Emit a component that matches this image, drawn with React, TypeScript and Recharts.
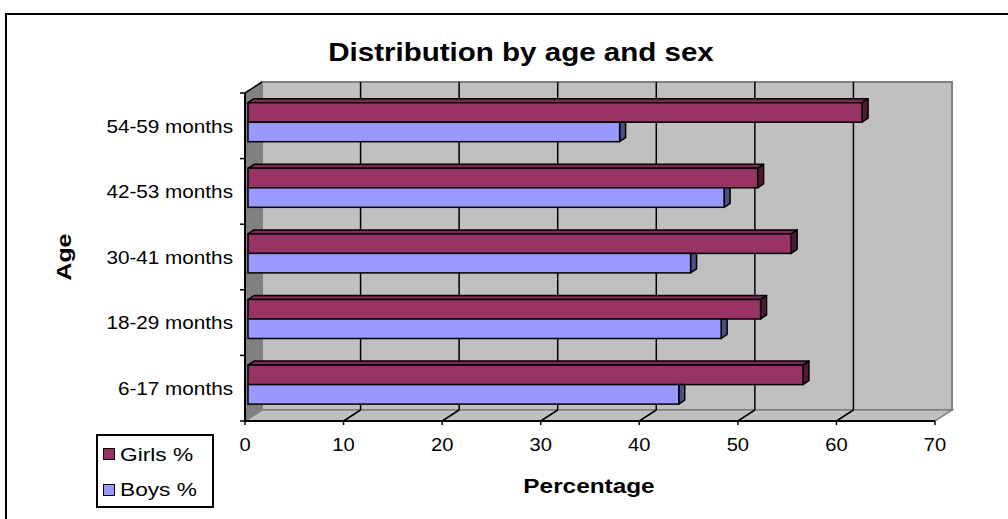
import React from 'react';
import { BarChart, Bar, XAxis, YAxis, ReferenceArea, Legend } from 'recharts';

// values (percent)
const categories = ['54-59 months', '42-53 months', '30-41 months', '18-29 months', '6-17 months'];
const girlsPct = [62.3, 51.7, 55.1, 52.0, 56.3];
const boysPct = [37.7, 48.3, 44.9, 48.0, 43.7];
const xTicks = [0, 10, 20, 30, 40, 50, 60, 70];
const seriesNames = ['Girls %', 'Boys %'];

const data = categories.map((age, i) => ({ age, girls: girlsPct[i], boys: boysPct[i] }));

const FONT = '"Liberation Sans", Arial, sans-serif';
const X_MAX = xTicks[xTicks.length - 1];
// 3d depth of the walls and of the bars
const DX = 17;
const DY = 11;
const BX = 6;
const BY = 4;
const SHIFT_X = 3;
const SHIFT_Y = 3.3;

const SText = ({ x, y, size, bold, anchor, sx, rotate, children }: any) => (
  <text
    transform={`translate(${x},${y})${rotate ? ` rotate(${rotate})` : ''} scale(${sx},1)`}
    textAnchor={anchor}
    fontSize={size}
    fontWeight={bold ? 700 : 400}
    fontFamily={FONT}
    fill="#000"
  >
    {children}
  </text>
);

const Walls = (props: any) => {
  const { x, y, width, height } = props;
  const bottom = y + height;
  const n = categories.length;
  return (
    <g>
      <polygon
        points={`${x},${y} ${x + DX},${y - DY} ${x + DX},${bottom - DY} ${x},${bottom}`}
        fill="#808080"
        stroke="#808080"
      />
      <rect x={x + DX} y={y - DY} width={width} height={height} fill="#c0c0c0" stroke="#808080" strokeWidth={2} />
      <polygon
        points={`${x},${bottom} ${x + DX},${bottom - DY} ${x + width + DX},${bottom - DY} ${x + width},${bottom}`}
        fill="#c0c0c0"
        stroke="#808080"
        strokeWidth={1.5}
      />
      {xTicks.slice(1, -1).map((t) => {
        const px = x + (width * t) / X_MAX;
        return (
          <g key={t}>
            <line x1={px + DX} y1={y - DY} x2={px + DX} y2={bottom - DY} stroke="#000" strokeWidth={1.5} />
            <line x1={px} y1={bottom} x2={px + DX} y2={bottom - DY} stroke="#000" strokeWidth={1.5} />
          </g>
        );
      })}
      <line x1={x} y1={y} x2={x + DX} y2={y - DY} stroke="#000" strokeWidth={1.5} />
      {categories.map((c, i) => (
        <line key={c} x1={x - 5} x2={x} y1={y + (height * i) / n} y2={y + (height * i) / n} stroke="#000" strokeWidth={1.5} />
      ))}
      <line x1={x - 5} x2={x} y1={bottom} y2={bottom} stroke="#000" strokeWidth={1.5} />
    </g>
  );
};

const makeBar = (front: string, top: string, side: string, showTop: boolean) => (props: any) => {
  const { x, y, width, height } = props;
  const fx = x + SHIFT_X;
  const fy = y - SHIFT_Y;
  const r = fx + width;
  return (
    <g>
      {showTop && (
        <polygon
          points={`${fx},${fy} ${fx + BX},${fy - BY} ${r + BX},${fy - BY} ${r},${fy}`}
          fill={top}
          stroke="#000"
          strokeWidth={1.5}
          strokeLinejoin="round"
        />
      )}
      <polygon
        points={
          showTop
            ? `${r},${fy} ${r + BX},${fy - BY} ${r + BX},${fy + height - BY} ${r},${fy + height}`
            : `${r},${fy} ${r + BX},${fy} ${r + BX},${fy + height - BY} ${r},${fy + height}`
        }
        fill={side}
        stroke="#000"
        strokeWidth={1.5}
        strokeLinejoin="round"
      />
      <rect x={fx} y={fy} width={width} height={height} fill={front} stroke="#000" strokeWidth={1.5} />
    </g>
  );
};

const GirlsBar = makeBar('#993366', '#7d2a55', '#4d1a33', true);
const BoysBar = makeBar('#9999ff', '#7a7acc', '#4d4d80', false);

const YTick = (props: any) => {
  const { x, y, payload } = props;
  return (
    <SText x={x} y={y + 6.7} size={18.5} anchor="end" sx={1.12}>
      {payload.value}
    </SText>
  );
};

const XTick = (props: any) => {
  const { x, y, payload } = props;
  return (
    <SText x={x} y={y + 24} size={18} anchor="middle" sx={1.12}>
      {payload.value}
    </SText>
  );
};

const LegendBox = (props: any) => {
  const items = [...(props.payload || [])].sort(
    (a: any, b: any) => seriesNames.indexOf(a.value) - seriesNames.indexOf(b.value)
  );
  return (
    <div
      style={{
        position: 'relative',
        width: 114,
        height: 70,
        border: '2px solid #000',
        background: '#fff',
        fontFamily: FONT,
      }}
    >
      {items.map((it: any, i: number) => (
        <React.Fragment key={it.value}>
          <div
            style={{
              position: 'absolute',
              left: 5,
              top: 12 + i * 36,
              width: 10,
              height: 10,
              background: it.color,
              border: '1.5px solid #000',
            }}
          />
          <span
            style={{
              position: 'absolute',
              left: 22,
              top: 10 + i * 35,
              fontSize: 18.6,
              lineHeight: 1,
              whiteSpace: 'nowrap',
              transform: 'scaleX(1.22)',
              transformOrigin: 'left',
              color: '#000',
            }}
          >
            {it.value}
          </span>
        </React.Fragment>
      ))}
    </div>
  );
};

export default function App() {
  return (
    <div style={{ position: 'absolute', left: 0, top: 0, width: 1008, height: 519, background: '#fff', overflow: 'hidden' }}>
      <BarChart
        width={1008}
        height={519}
        data={data}
        layout="vertical"
        margin={{ top: 93, right: 73, bottom: 58, left: 0 }}
        barGap={0}
      >
        <XAxis
          type="number"
          domain={[0, X_MAX]}
          ticks={xTicks}
          interval={0}
          height={40}
          tickSize={4}
          axisLine={{ stroke: '#000', strokeWidth: 2 }}
          tickLine={{ stroke: '#000', strokeWidth: 1.5 }}
          tick={<XTick />}
        />
        <YAxis
          type="category"
          dataKey="age"
          width={245}
          tickSize={0}
          tickMargin={12}
          tickLine={false}
          axisLine={{ stroke: '#000', strokeWidth: 2 }}
          tick={<YTick />}
        />
        <ReferenceArea x1={0} x2={X_MAX} shape={Walls} ifOverflow="visible" />
        <Bar dataKey="girls" name="Girls %" fill="#993366" barSize={19.5} shape={GirlsBar} isAnimationActive={false} />
        <Bar dataKey="boys" name="Boys %" fill="#9999ff" barSize={19.5} shape={BoysBar} isAnimationActive={false} />
        <Legend
          layout="horizontal"
          verticalAlign="middle"
          align="center"
          wrapperStyle={{ left: 96, top: 434, width: 118 }}
          content={<LegendBox />}
        />
      </BarChart>
      <svg width={1008} height={519} style={{ position: 'absolute', left: 0, top: 0, pointerEvents: 'none' }}>
        <rect x={6} y={14} width={1010} height={520} fill="none" stroke="#000" strokeWidth={2} />
        <SText x={521} y={60.5} size={26.5} bold anchor="middle" sx={1.115}>
          Distribution by age and sex
        </SText>
        <SText x={589} y={493} size={21} bold anchor="middle" sx={1.16}>
          Percentage
        </SText>
        <SText x={71} y={257} size={21} bold anchor="middle" sx={1.18} rotate={-90}>
          Age
        </SText>
      </svg>
    </div>
  );
}
